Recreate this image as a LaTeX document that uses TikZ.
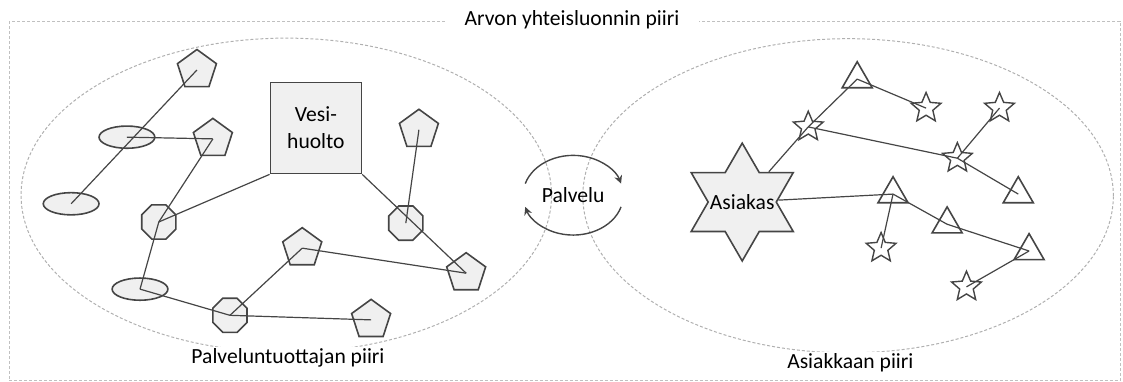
\documentclass[tikz,border=0pt]{standalone}
\usepackage{fontspec}
\setmainfont{Carlito}
\usepackage{xcolor}
\usepackage{tikz}
\usetikzlibrary{shapes.geometric, arrows.meta, calc}

\definecolor{edgegray}{HTML}{454545}
\definecolor{shapefill}{HTML}{F0F0F0}
\definecolor{ringgray}{HTML}{B0B0B0}

\begin{document}
\begin{tikzpicture}[
        font=\fontsize{10.8}{13.5}\selectfont,
        penta/.style={regular polygon, regular polygon sides=5, draw=edgegray, fill=shapefill, line width=0.8pt, minimum size=0.72cm, inner sep=0pt},
        octa/.style={regular polygon, regular polygon sides=8, draw=edgegray, fill=shapefill, line width=0.8pt, minimum size=0.65cm, inner sep=0pt},
        oval/.style={ellipse, draw=edgegray, fill=shapefill, line width=0.8pt, minimum width=0.98cm, minimum height=0.39cm, inner sep=0pt},
        tri/.style={regular polygon, regular polygon sides=3, draw=edgegray, fill=white, line width=0.8pt, minimum size=0.61cm, inner sep=0pt},
        smallstar/.style={star, star points=5, star point ratio=2.2, draw=edgegray, fill=white, line width=0.7pt, minimum size=0.55cm, inner sep=0pt},
        ring/.style={ellipse, draw=ringgray, dash pattern=on 1.5pt off 1pt, line width=0.5pt, minimum width=9.32cm, minimum height=5.52cm, inner sep=0pt},
        frame/.style={draw=ringgray!80, dash pattern=on 1.5pt off 1pt, line width=0.5pt},
        link/.style={draw=edgegray, line width=0.6pt},
        turn/.style={draw=edgegray, line width=0.7pt, -{Stealth[length=4pt, width=4pt]}}
    ]
        \useasboundingbox (0,0) rectangle (19.73,-6.71);

        % Outer boundary
        \draw[frame] (0.16,-0.37) rectangle (19.68,-6.69);
        \node[fill=white, inner xsep=10pt, inner ysep=1pt] (title) at (10.05,-0.35) {Arvon yhteisluonnin piiri};

        % Circles
        \node[ring] (lring) at (5.03,-3.43) {};
        \node[ring] (rring) at (14.90,-3.44) {};
        \node[fill=white, inner sep=1pt] (llabel) at (5.06,-6.29) {Palveluntuottajan piiri};
        \node[fill=white, inner sep=1pt] (rlabel) at (14.94,-6.38) {Asiakkaan piiri};

        % Service in the middle
        \node (pal) at (10.07,-3.43) {Palvelu};
        \draw[turn] ($(pal.center)+(163:0.88cm and 0.70cm)$) arc[start angle=163, end angle=17, x radius=0.88cm, y radius=0.70cm];
        \draw[turn] ($(pal.center)+(-17:0.88cm and 0.70cm)$) arc[start angle=-17, end angle=-163, x radius=0.88cm, y radius=0.70cm];

        % Provider side
        \node[rectangle, draw=edgegray, fill=shapefill, line width=0.8pt, minimum size=1.60cm, align=center, inner sep=0pt] (box) at (5.55,-2.25) {Vesi-\\huolto};
        \node[penta] (p1) at (3.46,-1.23) {};
        \node[oval] (e1) at (2.23,-2.41) {};
        \node[penta] (p2) at (3.74,-2.44) {};
        \node[oval] (e2) at (1.25,-3.58) {};
        \node[octa] (o1) at (2.79,-3.90) {};
        \node[penta] (p3) at (7.36,-2.28) {};
        \node[octa] (o2) at (7.13,-3.92) {};
        \node[penta] (p4) at (5.31,-4.36) {};
        \node[penta] (p5) at (8.19,-4.80) {};
        \node[oval] (e3) at (2.46,-5.08) {};
        \node[octa] (o3) at (4.04,-5.54) {};
        \node[penta] (p6) at (6.52,-5.62) {};

        % Customer side
        \node[star, star points=6, star point ratio=1.73, draw=edgegray, fill=shapefill, line width=0.8pt, minimum size=2.07cm, inner sep=0pt] (ast) at (13.04,-3.55) {\makebox[0pt]{Asiakas}};
        \node[smallstar] (s1) at (14.20,-2.23) {};
        \node[tri] (t1) at (15.06,-1.39) {};
        \node[smallstar] (s2) at (16.27,-1.90) {};
        \node[smallstar] (s3) at (17.56,-1.90) {};
        \node[smallstar] (s4) at (16.82,-2.78) {};
        \node[tri] (t2) at (15.69,-3.41) {};
        \node[tri] (t3) at (17.89,-3.41) {};
        \node[tri] (t4) at (16.64,-3.94) {};
        \node[tri] (t5) at (18.08,-4.41) {};
        \node[smallstar] (s5) at (15.48,-4.36) {};
        \node[smallstar] (s6) at (16.98,-5.04) {};

        % Links, provider
        \draw[link] (e2.center) -- (p1.center);
        \draw[link] (e1.center) -- (p2.center);
        \draw[link] (p2.center) -- (o1.center);
        \draw[link] (o1.center) -- (box.south west);
        \draw[link] (o1.center) -- (e3.center);
        \draw[link] (e3.center) -- (o3.center);
        \draw[link] (o3.center) -- (p4.center);
        \draw[link] (o3.center) -- (p6.center);
        \draw[link] (p4.center) -- (p5.center);
        \draw[link] (box.south east) -- (p5.center);
        \draw[link] (p3.center) -- (o2.center);

        % Links, customer
        \draw[link] (ast) -- (s1.center);
        \draw[link] (s1.center) -- (t1.center);
        \draw[link] (t1.center) -- (s2.center);
        \draw[link] (s1.center) -- (s4.center);
        \draw[link] (s4.center) -- (s3.center);
        \draw[link] (s4.center) -- (t3.center);
        \draw[link] (ast) -- (t2.center);
        \draw[link] (t2.center) -- (s5.center);
        \draw[link] (t2.center) -- (t4.center);
        \draw[link] (t4.center) -- (t5.center);
        \draw[link] (t5.center) -- (s6.center);

    \end{tikzpicture}
\end{document}
